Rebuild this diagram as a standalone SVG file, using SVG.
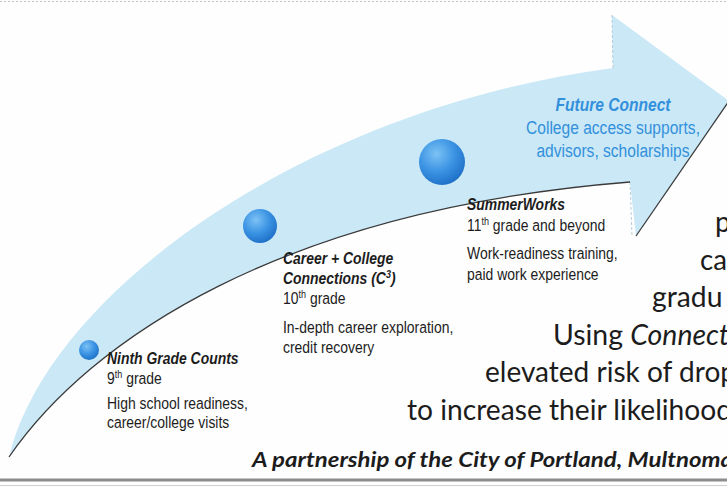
<svg xmlns="http://www.w3.org/2000/svg" width="727" height="487" viewBox="0 0 727 487">
<defs>
<radialGradient id="dotGrad" cx="0.38" cy="0.32" r="0.72">
<stop offset="0" stop-color="#7cc2f5"/>
<stop offset="0.55" stop-color="#3b93e3"/>
<stop offset="1" stop-color="#1d6fc6"/>
</radialGradient>
</defs>
<style>
.sm{font-family:"Liberation Sans",Arial,sans-serif;font-size:17px;fill:#1c1c1c}
.b{font-weight:bold;font-style:italic}
.blue{font-family:"Liberation Sans",Arial,sans-serif;font-size:19px;fill:#3390dc;text-anchor:middle}
.big{font-family:Lato,"Open Sans",sans-serif;font-size:28px;fill:#1c1c1c}
.foot{font-family:Lato,"Open Sans",sans-serif;font-size:20px;font-weight:bold;font-style:italic;fill:#1c1c1c}
.dot{fill:url(#dotGrad)}
.sup{font-size:11px}
.edge{fill:none;stroke:#3a3a3a;stroke-width:1.3}
.notch{fill:none;stroke:#a6c2cf;stroke-width:0.8;stroke-dasharray:3 2}
</style>
<rect width="727" height="487" fill="#fefefe"/>
<line x1="0" y1="1.5" x2="727" y2="1.5" stroke="#c4c4c4" stroke-width="1" stroke-dasharray="2 2"/>

<g id="arrow">
<path fill="#cae8f6" d="M9,457 C48,295 300,110 613,68 L612,15 L729,101 L636,236 L630,182 C280,210 90,340 9,457 Z"/>
<line class="notch" x1="612" y1="15" x2="613" y2="68"/>
<line class="notch" x1="630" y1="182" x2="632" y2="236"/>
</g>

<g id="connectors">
<path class="edge" d="M9,457 C90,340 280,210 630,182"/>
<line class="edge" x1="636" y1="236" x2="729" y2="101"/>
</g>

<g id="node-ninth">
<circle class="dot" cx="89" cy="350" r="10"/>
<g transform="translate(107,0) scale(0.82,1)">
<text class="sm b" x="0" y="364">Ninth Grade Counts</text>
<text class="sm" x="0" y="384">9<tspan class="sup" dy="-6">th</tspan><tspan dy="6"> grade</tspan></text>
<text class="sm" x="0" y="409">High school readiness,</text>
<text class="sm" x="0" y="428">career/college visits</text>
</g>
</g>

<g id="node-c3">
<circle class="dot" cx="260" cy="226" r="17"/>
<g transform="translate(283,0) scale(0.82,1)">
<text class="sm b" x="0" y="264">Career + College</text>
<text class="sm b" x="0" y="284">Connections (C<tspan class="sup" dy="-6">3</tspan><tspan dy="6">)</tspan></text>
<text class="sm" x="0" y="304">10<tspan class="sup" dy="-6">th</tspan><tspan dy="6"> grade</tspan></text>
<text class="sm" x="0" y="333">In-depth career exploration,</text>
<text class="sm" x="0" y="353">credit recovery</text>
</g>
</g>

<g id="node-summerworks">
<circle class="dot" cx="442" cy="162" r="23"/>
<g transform="translate(467,0) scale(0.82,1)">
<text class="sm b" x="0" y="210">SummerWorks</text>
<text class="sm" x="0" y="231">11<tspan class="sup" dy="-6">th</tspan><tspan dy="6"> grade and beyond</tspan></text>
<text class="sm" x="0" y="259.5">Work-readiness training,</text>
<text class="sm" x="0" y="280">paid work experience</text>
</g>
</g>

<g id="node-future">
<g transform="translate(613,0) scale(0.82,1)">
<text class="blue b" x="0" y="111">Future Connect</text>
<text class="blue" x="0" y="134">College access supports,</text>
<text class="blue" x="0" y="157">advisors, scholarships</text>
</g>
</g>

<g id="right-text">
<text class="big" x="715" y="232">p</text>
<text class="big" x="700" y="269.5" textLength="27" lengthAdjust="spacingAndGlyphs">ca</text>
<text class="big" x="652" y="307" textLength="70.5" lengthAdjust="spacingAndGlyphs">gradu</text>
<text class="big" x="553" y="344.5" textLength="176" lengthAdjust="spacingAndGlyphs">Using <tspan font-style="italic">Connect</tspan></text>
<text class="big" x="485" y="382" textLength="251" lengthAdjust="spacingAndGlyphs">elevated risk of drop</text>
<text class="big" x="407" y="419.5" textLength="325" lengthAdjust="spacingAndGlyphs">to increase their likelihood</text>
</g>

<g id="footer">
<text class="foot" x="252" y="467" textLength="481" lengthAdjust="spacingAndGlyphs">A partnership of the City of Portland, Multnoma</text>
<rect x="0" y="478.5" width="727" height="3" fill="#8c8c8c"/>
<line x1="0" y1="485.5" x2="727" y2="485.5" stroke="#d0d0d0" stroke-width="1"/>
</g>
</svg>
